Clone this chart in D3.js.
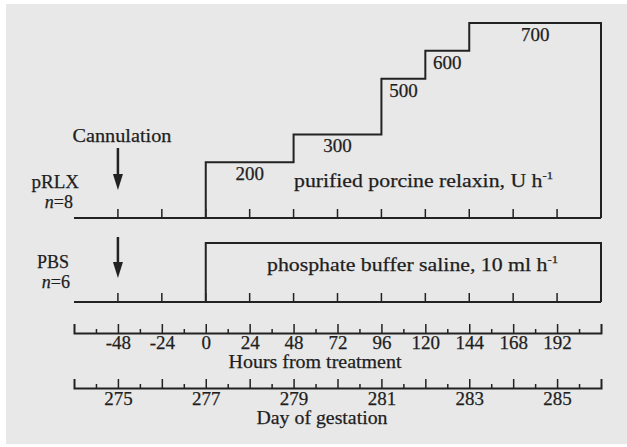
<!DOCTYPE html>
<html>
<head>
<meta charset="utf-8">
<script src="https://cdn.jsdelivr.net/npm/d3@7"></script>
<style>
    body { margin: 0; background: #fff; }
    svg text { font-family: 'Liberation Serif', 'Times New Roman', serif; fill: #1e1e1e; stroke: #1e1e1e; stroke-width: 0.25px; }
</style>
</head>
<body>
<svg id="chart" width="627" height="447"></svg>
<script>
// pRLX infusion schedule (U h-1), start/end in hours from treatment
const doseStart = [0, 48, 96, 120, 144];
const doseEnd = [48, 96, 120, 144, 216];
const doseRate = [200, 300, 500, 600, 700];

// PBS infusion (ml h-1)
const pbsStart = [0];
const pbsEnd = [216];
const pbsRate = [10];

const cannulationHour = -48;

// axes
const hourLabels = [-48, -24, 0, 24, 48, 72, 96, 120, 144, 168, 192];
const hourMinor = [-60, -36, -12, 12, 36, 60, 84, 108, 132, 156, 180, 204];
const dayTicks = [275, 276, 277, 278, 279, 280, 281, 282, 283, 284, 285];
const dayLabels = [275, 277, 279, 281, 283, 285];
const dayMinor = [274.5, 275.5, 276.5, 277.5, 278.5, 279.5, 280.5, 281.5, 282.5, 283.5, 284.5, 285.5];

const fontSize = 19;
const ink = '#222';

const svg = d3.select('#chart');

svg.append('rect')
    .attr('x', 6)
    .attr('y', 4)
    .attr('width', 621)
    .attr('height', 440)
    .attr('fill', '#e8e8e8');

const xHours = d3.scaleLinear().domain([-72, 216]).range([74, 601]);
const xDays = d3.scaleLinear().domain([274, 286]).range([74, 601]);
const yRelaxin = d3.scaleLinear().domain([0, 700]).range([218, 23]);
const yPbs = d3.scaleLinear().domain([0, 10]).range([302, 243]);

function stepPoints(starts, ends, rates) {
    const pts = [[starts[0], 0]];
    starts.forEach((s, i) => pts.push([s, rates[i]]));
    const last = ends[ends.length - 1];
    pts.push([last, rates[rates.length - 1]]);
    pts.push([last, 0]);
    return pts;
}

function drawRow(yScale, starts, ends, rates) {
    const g = svg.append('g');
    const y0 = yScale(0);
    g.append('line')
        .attr('x1', xHours(-72))
        .attr('x2', xHours(216))
        .attr('y1', y0)
        .attr('y2', y0)
        .attr('stroke', ink)
        .attr('stroke-width', 2);
    g.selectAll('.rowtick')
        .data(hourLabels)
        .enter()
        .append('line')
        .attr('x1', d => xHours(d))
        .attr('x2', d => xHours(d))
        .attr('y1', y0)
        .attr('y2', y0 - 9)
        .attr('stroke', ink)
        .attr('stroke-width', 1.5);
    const line = d3.line()
        .x(d => xHours(d[0]))
        .y(d => yScale(d[1]))
        .curve(d3.curveStepAfter);
    g.append('path')
        .attr('d', line(stepPoints(starts, ends, rates)))
        .attr('fill', 'none')
        .attr('stroke', ink)
        .attr('stroke-width', 2);
    return g;
}

const relaxRow = drawRow(yRelaxin, doseStart, doseEnd, doseRate);
drawRow(yPbs, pbsStart, pbsEnd, pbsRate);

// dose labels under each step
relaxRow.selectAll('.dose')
    .data(doseRate)
    .enter()
    .append('text')
    .attr('x', (d, i) => xHours((doseStart[i] + doseEnd[i]) / 2))
    .attr('y', d => yRelaxin(d) + 18)
    .attr('text-anchor', 'middle')
    .attr('font-size', fontSize)
    .text(d => d);

function addText(x, y, str, anchor, sup, len, size) {
    const t = svg.append('text')
        .attr('x', x)
        .attr('y', y)
        .attr('text-anchor', anchor || 'start')
        .attr('font-size', size || fontSize)
        .text(str);
    if (sup) {
        t.append('tspan')
            .attr('font-size', 11)
            .attr('dy', -8)
            .text(sup);
    }
    if (len) t.attr('textLength', len).attr('lengthAdjust', 'spacingAndGlyphs');
    return t;
}

addText(294, 187, 'purified porcine relaxin, U h', 'start', '-1', 259);
addText(267, 271, 'phosphate buffer saline, 10 ml h', 'start', '-1', 291);
addText(122, 142, 'Cannulation', 'middle', null, 99);
addText(79, 188, 'pRLX', 'end');
addText(69, 268, 'PBS', 'end', null, null, 18);

function nLabel(x, y, n) {
    const t = svg.append('text')
        .attr('x', x)
        .attr('y', y)
        .attr('text-anchor', 'end')
        .attr('font-size', 18);
    t.append('tspan').attr('font-style', 'italic').text('n');
    t.append('tspan').text(`=${n}`);
}
nLabel(73, 208, 8);
nLabel(70, 288, 6);

// cannulation arrows
function arrow(top, bottom) {
    const x = xHours(cannulationHour);
    svg.append('line')
        .attr('x1', x)
        .attr('x2', x)
        .attr('y1', top)
        .attr('y2', bottom - 10)
        .attr('stroke', ink)
        .attr('stroke-width', 2.5);
    svg.append('path')
        .attr('d', `M${x - 5},${bottom - 16}L${x + 5},${bottom - 16}L${x},${bottom}Z`)
        .attr('fill', ink);
}
arrow(148, 190);
arrow(237, 278);

// bottom axes: ticks point up, labels below
function styleAxis(g) {
    g.selectAll('path, line').attr('stroke', ink).attr('stroke-width', 1.5);
    g.selectAll('text').attr('font-size', fontSize).attr('fill', '#1e1e1e')
        .style('font-family', "'Liberation Serif', 'Times New Roman', serif");
    g.selectAll('text').filter(function () { return this.textContent === ''; }).remove();
}

const hoursAxis = svg.append('g')
    .attr('transform', 'translate(0,333)')
    .call(d3.axisBottom(xHours)
        .tickValues(hourLabels)
        .tickSizeInner(-9)
        .tickSizeOuter(-9)
        .tickPadding(2)
        .tickFormat(d => d));
styleAxis(hoursAxis);
hoursAxis.select('.domain').attr('stroke-width', 2);

svg.append('g')
    .attr('transform', 'translate(0,333)')
    .call(d3.axisBottom(xHours)
        .tickValues(hourMinor)
        .tickSizeInner(-4)
        .tickSizeOuter(0)
        .tickFormat(''))
    .call(g => g.select('.domain').remove())
    .call(styleAxis);

const daysAxis = svg.append('g')
    .attr('transform', 'translate(0,388)')
    .call(d3.axisBottom(xDays)
        .tickValues(dayTicks)
        .tickSizeInner(-9)
        .tickSizeOuter(-9)
        .tickPadding(3)
        .tickFormat(d => (dayLabels.includes(d) ? d : '')));
styleAxis(daysAxis);
daysAxis.select('.domain').attr('stroke-width', 2);

svg.append('g')
    .attr('transform', 'translate(0,388)')
    .call(d3.axisBottom(xDays)
        .tickValues(dayMinor)
        .tickSizeInner(-4)
        .tickSizeOuter(0)
        .tickFormat(''))
    .call(g => g.select('.domain').remove())
    .call(styleAxis);

addText(315, 368, 'Hours from treatment', 'middle', null, 173);
addText(322, 424, 'Day of gestation', 'middle', null, 131);
</script>
</body>
</html>
